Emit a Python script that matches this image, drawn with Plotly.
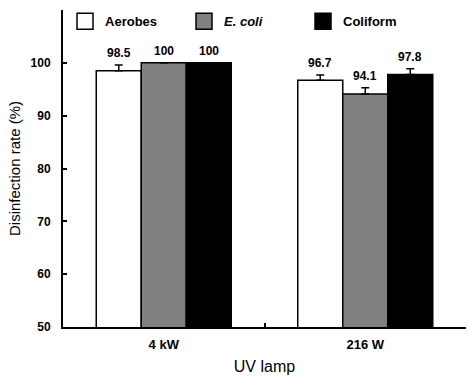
import plotly.graph_objects as go

categories = ["4 kW", "216 W"]
series_names = ["Aerobes", "<i>E. coli</i>", "Coliform"]
aerobes = [98.5, 96.7]
ecoli = [100, 94.1]
coliform = [100, 97.8]
aerobes_err = [1.1, 1.0]
ecoli_err = [0.0, 1.2]
coliform_err = [0.0, 1.1]
value_labels = [["98.5", "96.7"], ["100", "94.1"], ["100", "97.8"]]

colors = ["white", "#808080", "black"]
values = [aerobes, ecoli, coliform]
errs = [aerobes_err, ecoli_err, coliform_err]

FONT = "Liberation Sans, Arial, sans-serif"
W, H = 470, 380
ML, MR, MT, MB = 63, 4, 10, 53
BARGAP = 0.33

fig = go.Figure()
for i in range(3):
    fig.add_trace(go.Bar(
        x=categories, y=values[i], name=series_names[i],
        marker=dict(color=colors[i], line=dict(color="black", width=1.5)),
        error_y=dict(type="data", array=errs[i], symmetric=False, arrayminus=[0, 0],
                     color="black", thickness=1.5, width=4, visible=True),
        showlegend=False,
    ))
    # legend proxy
    fig.add_trace(go.Scatter(
        x=[None], y=[None], mode="markers", name=series_names[i],
        marker=dict(symbol="square", size=16, color=colors[i],
                    line=dict(color="black", width=1.5)),
    ))

plot_w = W - ML - MR
bar_px = plot_w / len(categories) * (1 - BARGAP) / 3
for i in range(3):
    for j, c in enumerate(categories):
        fig.add_annotation(
            x=c, y=values[i][j] + errs[i][j], xref="x", yref="y",
            text=value_labels[i][j], showarrow=False, yanchor="bottom",
            xshift=(i - 1) * bar_px, yshift=3,
            font=dict(family=FONT, size=12, color="black", weight="bold"),
        )

fig.update_layout(
    width=W, height=H, margin=dict(l=ML, r=MR, t=MT, b=MB),
    paper_bgcolor="white", plot_bgcolor="white",
    barmode="group", bargap=BARGAP, bargroupgap=0,
    font=dict(family=FONT, color="black"),
    showlegend=True,
    legend=dict(orientation="h", x=0.005, y=1.012, xanchor="left", yanchor="top",
                yref="paper", entrywidth=74, entrywidthmode="pixels",
                itemsizing="trace", bgcolor="rgba(0,0,0,0)",
                font=dict(family=FONT, size=13, color="black", weight="bold")),
    xaxis=dict(
        showline=True, linecolor="black", linewidth=2, ticks="inside", ticklen=4,
        tickwidth=2, tickcolor="black", tickson="boundaries", ticklabelstandoff=4,
        tickfont=dict(family=FONT, size=13, color="black", weight="bold"),
        title=dict(text="UV lamp", font=dict(family=FONT, size=16, color="black"), standoff=10),
        showgrid=False,
    ),
    yaxis=dict(
        range=[50, 110], showline=True, linecolor="black", linewidth=2,
        ticks="inside", ticklen=4, tickwidth=2, tickcolor="black", ticklabelstandoff=8,
        tickvals=[50, 60, 70, 80, 90, 100, 110],
        ticktext=["50", "60", "70", "80", "90", "100", ""],
        tickfont=dict(family=FONT, size=12, color="black", weight="bold"),
        title=dict(text="Disinfection rate (%)", font=dict(family=FONT, size=15, color="black"), standoff=6),
        showgrid=False, zeroline=False,
    ),
)

fig.write_html("out.html")
